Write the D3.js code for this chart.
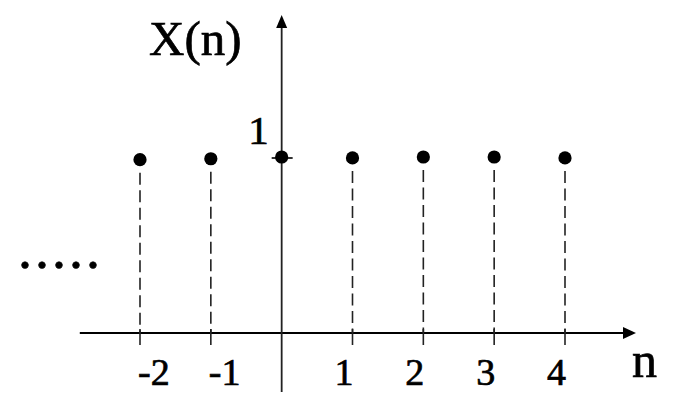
<!DOCTYPE html>
<html>
<head>
<meta charset="utf-8">
<script src="https://cdn.jsdelivr.net/npm/d3@7"></script>
<style>
  html, body { margin: 0; padding: 0; background: #fff; }
  svg { display: block; }
  text { font-family: "Liberation Serif", "Times New Roman", serif; fill: #000; stroke: #000; stroke-width: 0.7; }
</style>
</head>
<body>
<script>
// ---- data ----
const nValues = [-2, -1, 0, 1, 2, 3, 4];
const xValues = [0.985, 0.99, 1.0, 0.995, 1.0, 1.0, 0.995];
const tickLabels = ["-2", "-1", "", "1", "2", "3", "4"];
const yTickValues = [1];
const yTickLabels = ["1"];

const W = 673, H = 407;
const svg = d3.select("body").append("svg").attr("width", W).attr("height", H);

const x = d3.scaleLinear().domain([-2, 4]).range([140, 565]);
const y = d3.scaleLinear().domain([0, 1]).range([333, 157]);

// x axis line with arrow
const xStart = x(-2.85), xEnd = x(4.82), xTip = 636;
svg.append("line").attr("x1", xStart).attr("x2", xEnd).attr("y1", y(0)).attr("y2", y(0))
  .attr("stroke", "#000").attr("stroke-width", 2);
svg.append("path")
  .attr("d", `M${xTip},${y(0)} L${xTip - 13},${y(0) - 6} L${xTip - 13},${y(0) + 6} Z`)
  .attr("fill", "#000");

// y axis line with arrow
const yBottom = y(-0.335), yTop = y(1.74), yTip = 15;
svg.append("line").attr("x1", x(0)).attr("x2", x(0)).attr("y1", yBottom).attr("y2", yTop)
  .attr("stroke", "#222").attr("stroke-width", 1.8);
svg.append("path")
  .attr("d", `M${x(0)},${yTip} L${x(0) - 5.5},${yTip + 13} L${x(0) + 5.5},${yTip + 13} Z`)
  .attr("fill", "#000");

// y tick at 1
svg.selectAll(".ytick").data(yTickValues).enter().append("line")
  .attr("x1", x(0) - 10).attr("x2", x(0) + 11)
  .attr("y1", d => y(d) + 1).attr("y2", d => y(d) + 1)
  .attr("stroke", "#000").attr("stroke-width", 1.6);
svg.selectAll(".ylab").data(yTickLabels).enter().append("text")
  .attr("x", x(0) - 13).attr("y", (d, i) => y(yTickValues[i]) - 13)
  .attr("text-anchor", "end").attr("font-size", 41).text(d => d);

// stems (dashed) and small solid ticks under the axis
const pts = nValues.map((n, i) => ({ n, v: xValues[i], lab: tickLabels[i] }));
svg.selectAll(".stem").data(pts.filter(d => d.n !== 0)).enter().append("line")
  .attr("x1", d => x(d.n)).attr("x2", d => x(d.n))
  .attr("y1", d => y(d.v) + 13).attr("y2", y(0))
  .attr("stroke", "#222").attr("stroke-width", 1.6)
  .attr("stroke-dasharray", "12,5.5");
svg.selectAll(".xtick").data(pts.filter(d => d.n !== 0)).enter().append("line")
  .attr("x1", d => x(d.n)).attr("x2", d => x(d.n))
  .attr("y1", y(0) - 4).attr("y2", y(0) + 12)
  .attr("stroke", "#222").attr("stroke-width", 1.6);

// dots
svg.selectAll(".dot").data(pts).enter().append("circle")
  .attr("cx", d => x(d.n)).attr("cy", d => y(d.v)).attr("r", 6.6)
  .attr("fill", "#000");

// x tick labels
svg.selectAll(".xlab").data(pts.filter(d => d.lab !== "")).enter().append("text")
  .attr("x", d => d.n < 0 ? x(d.n) - 2 : x(d.n) + 1)
  .attr("y", 385)
  .attr("text-anchor", d => d.n < 0 ? "start" : "end")
  .attr("font-size", 38)
  .text(d => d.lab);

// axis titles
svg.append("text").attr("x", 149).attr("y", 55).attr("font-size", 49).text("X(n)");
svg.append("text").attr("x", 632).attr("y", 377).attr("font-size", 50).text("n");

// continuation dots
svg.append("text").attr("x", 18).attr("y", 268).attr("font-size", 56)
  .attr("letter-spacing", 3).text(".....");
</script>
</body>
</html>
